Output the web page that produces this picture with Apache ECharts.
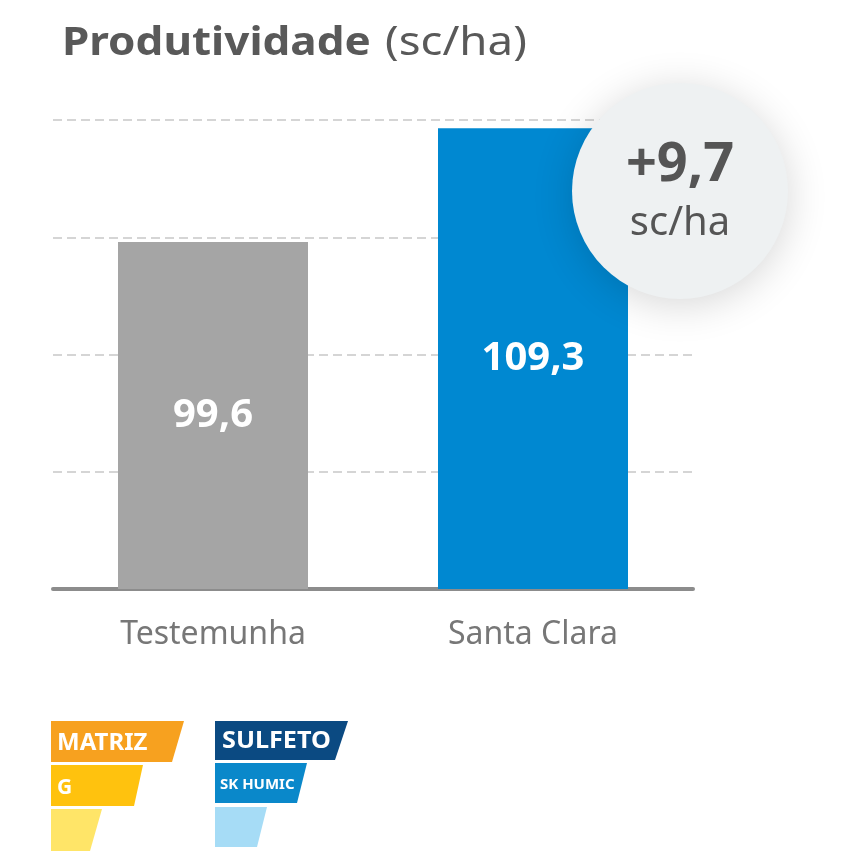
<!DOCTYPE html>
<html><head><meta charset="utf-8">
<script src="https://cdn.jsdelivr.net/npm/echarts@6/dist/echarts.min.js"></script>
<style>html,body{margin:0;padding:0;background:#fff}#c{width:857px;height:857px}</style>
</head><body><div id="c"></div>
<script>
const categories = ['Testemunha', 'Santa Clara'];
const values = [99.6, 109.3];
const barColors = ['#A5A5A5', '#0088D1'];
const titleBold = 'Produtividade';
const titleUnit = '(sc/ha)';
const gainText = '+9,7';
const gainUnit = 'sc/ha';
const FONT = '"Noto Sans", sans-serif';

const chart = echarts.init(document.getElementById('c'));
function fmt(v){ return String(v).replace('.', ','); }
function para(x1, y1, wTop, h, slant, fill){
  return {type:'polygon', shape:{points:[[x1,y1],[x1+wTop,y1],[x1+wTop-slant,y1+h],[x1,y1+h]]}, style:{fill:fill}, z:10};
}
function txt(x, y, t, size, bold, color, sx, align){
  return {type:'text', x:x, y:y, scaleX:sx||1, originX:0, originY:0,
    style:{text:t, fill:color, fontSize:size, fontWeight:bold?'bold':'normal', fontFamily:FONT, verticalAlign:'middle', align:align||'left'}, z:21};
}
chart.setOption({
  backgroundColor:'#fff',
  animation:false,
  grid:{left:53, right:164, top:120, bottom:268},
  xAxis:{type:'category', data:categories,
    axisLine:{show:true, lineStyle:{color:'#8C8C8C', width:4}},
    axisTick:{show:false},
    axisLabel:{color:'#777', fontSize:32, fontFamily:FONT, margin:30}
  },
  yAxis:{type:'value', min:70, max:110, interval:10,
    axisLabel:{show:false}, axisLine:{show:false}, axisTick:{show:false},
    splitLine:{show:true, lineStyle:{color:'#C8C8C8', width:1.5, type:[9,5]}}
  },
  series:[{type:'bar', barWidth:190,
    data: values.map((v,i)=>({value:v, itemStyle:{color:barColors[i]}})),
    label:{show:true, position:'inside', color:'#fff', fontSize:40, fontWeight:'bold', fontFamily:FONT,
      formatter:p=>fmt(p.value)}
  }],
  graphic:[
    txt(62, 44, titleBold, 40, true, '#595959', 1.1),
    txt(385, 44, titleUnit, 40, false, '#595959', 1.14),
    {type:'circle', shape:{cx:680, cy:191, r:108}, style:{fill:'#EEF1F2', shadowBlur:40, shadowColor:'rgba(0,0,0,0.16)', shadowOffsetX:0, shadowOffsetY:6}, z:20},
    txt(680, 166, gainText, 54, true, '#555', 1, 'center'),
    txt(680, 224, gainUnit, 40, false, '#555', 1, 'center'),
    para(51,721,133,41,12,'#F7A11F'),
    para(51,765,92,41,9,'#FFC20E'),
    para(51,809,51,42,12,'#FFE568'),
    para(215,721,133,39,13,'#0B4A82'),
    para(215,763,92,40,10,'#0A88CA'),
    para(215,807,52,40,10,'#A6DCF6'),
    txt(57, 743, 'MATRIZ', 24, true, '#fff', 1.0),
    txt(57, 788, 'G', 21, true, '#fff', 1.0),
    txt(222, 741, 'SULFETO', 24, true, '#fff', 1.05),
    txt(220, 785, 'SK HUMIC', 15, true, '#fff', 1.0)
  ]
});
</script></body></html>
